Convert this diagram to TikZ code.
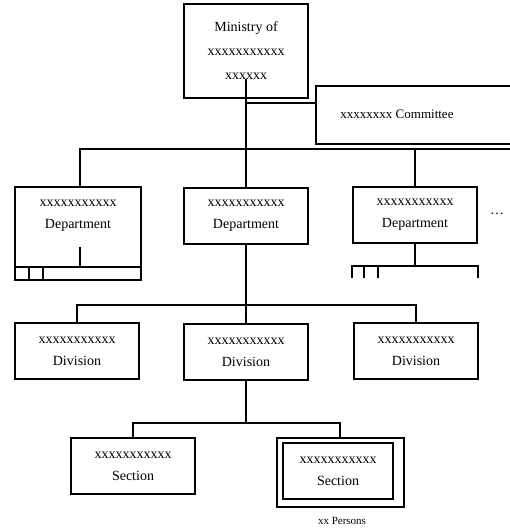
\documentclass[tikz,border=0pt]{standalone}
\usepackage{fontspec}
\setmainfont{Liberation Serif}
\usetikzlibrary{positioning,calc}
\tikzset{
  orgbox/.style={draw, line width=2pt, minimum width=124pt, minimum height=56pt,
                 align=center, font=\fontsize{14}{22}\selectfont, inner sep=2pt},
  wire/.style={line width=2pt},
  lbl/.style={font=\fontsize{13}{16}\selectfont},
  note/.style={font=\fontsize{11}{13}\selectfont},
}

\begin{document}
\begin{tikzpicture}[x=1pt,y=-1pt]
  \clip (0,0) rectangle (510,529);
  % top level
  \node[orgbox, minimum height=94pt,
        font=\fontsize{14}{24}\selectfont] (ministry) at (246,51)
        {Ministry of\\xxxxxxxxxxx\\xxxxxx};
  \node[orgbox, minimum width=230pt, minimum height=58pt, anchor=north west] (combox) at (315,85) {};
  \node[lbl] (comlbl) at (397,114) {xxxxxxxx Committee};

  % departments
  \node[orgbox, draw=none] (dept1) at (78,216) {xxxxxxxxxxx\\Department};
  \node[orgbox] (dept2) at (246,216) {xxxxxxxxxxx\\Department};
  \node[orgbox] (dept3) at (415,215) {xxxxxxxxxxx\\Department};
  \node[font=\fontsize{14}{16}\selectfont] (moredept) at (497,214) {\dots};

  % divisions
  \node[orgbox] (div1) at (77,351) {xxxxxxxxxxx\\Division};
  \node[orgbox] (div2) at (246,352) {xxxxxxxxxxx\\Division};
  \node[orgbox] (div3) at (416,351) {xxxxxxxxxxx\\Division};

  % sections
  \node[orgbox] (sec1) at (133,466) {xxxxxxxxxxx\\Section};
  \node[orgbox, minimum width=110pt] (sec2) at (338,471) {xxxxxxxxxxx\\Section};
  \draw[wire] ($(sec2.north west)+(-5,-4)$) rectangle ($(sec2.south east)+(10,7)$);
  \node[note] (persons) at (342,521) {xx Persons};

  % connectors
  \coordinate (combr) at (246,103);
  \coordinate (deptbar) at (246,149);
  \coordinate (divbar) at (246,305);
  \coordinate (secbar) at (246,423);
  \coordinate (sec2top) at ($(sec2.north)+(2,-4)$);
  \draw[wire] ($(ministry.south)+(0,-20)$) -- (dept2.north);
  \draw[wire] (combr) -- (combr -| combox.west);
  \draw[wire] ($(dept1.north)+(2,0)$) |- (520,149);
  \draw[wire] (dept3.north) -- (dept3.north |- deptbar);
  \draw[wire] (dept2.south) -- (div2.north);
  \draw[wire] (div1.north) |- (divbar) -| (div3.north);
  \draw[wire] (div2.south) -- (secbar);
  \draw[wire] (sec1.north) |- (secbar) -| (sec2top);

  % open bottom of the first department
  \draw[wire] (dept1.north west) rectangle ($(dept1.south east)+(0,35)$);
  \draw[wire] ($(dept1.south west)+(0,22)$) -- ($(dept1.south east)+(0,22)$);
  \foreach \dx in {14,28}
    \draw[wire] ($(dept1.south west)+(\dx,22)$) -- ++(0,13);
  \draw[wire] ($(dept1.south)+(2,2)$) -- ++(0,20);

  % units under the third department
  \draw[wire] (dept3.south) -- ++(0,22);
  \draw[wire] ($(dept3.south west)+(0,34)$) |- ($(dept3.south east)+(0,22)$) -- ++(0,12);
  \foreach \dx in {12,26}
    \draw[wire] ($(dept3.south west)+(\dx,22)$) -- ++(0,12);
\end{tikzpicture}
\end{document}
